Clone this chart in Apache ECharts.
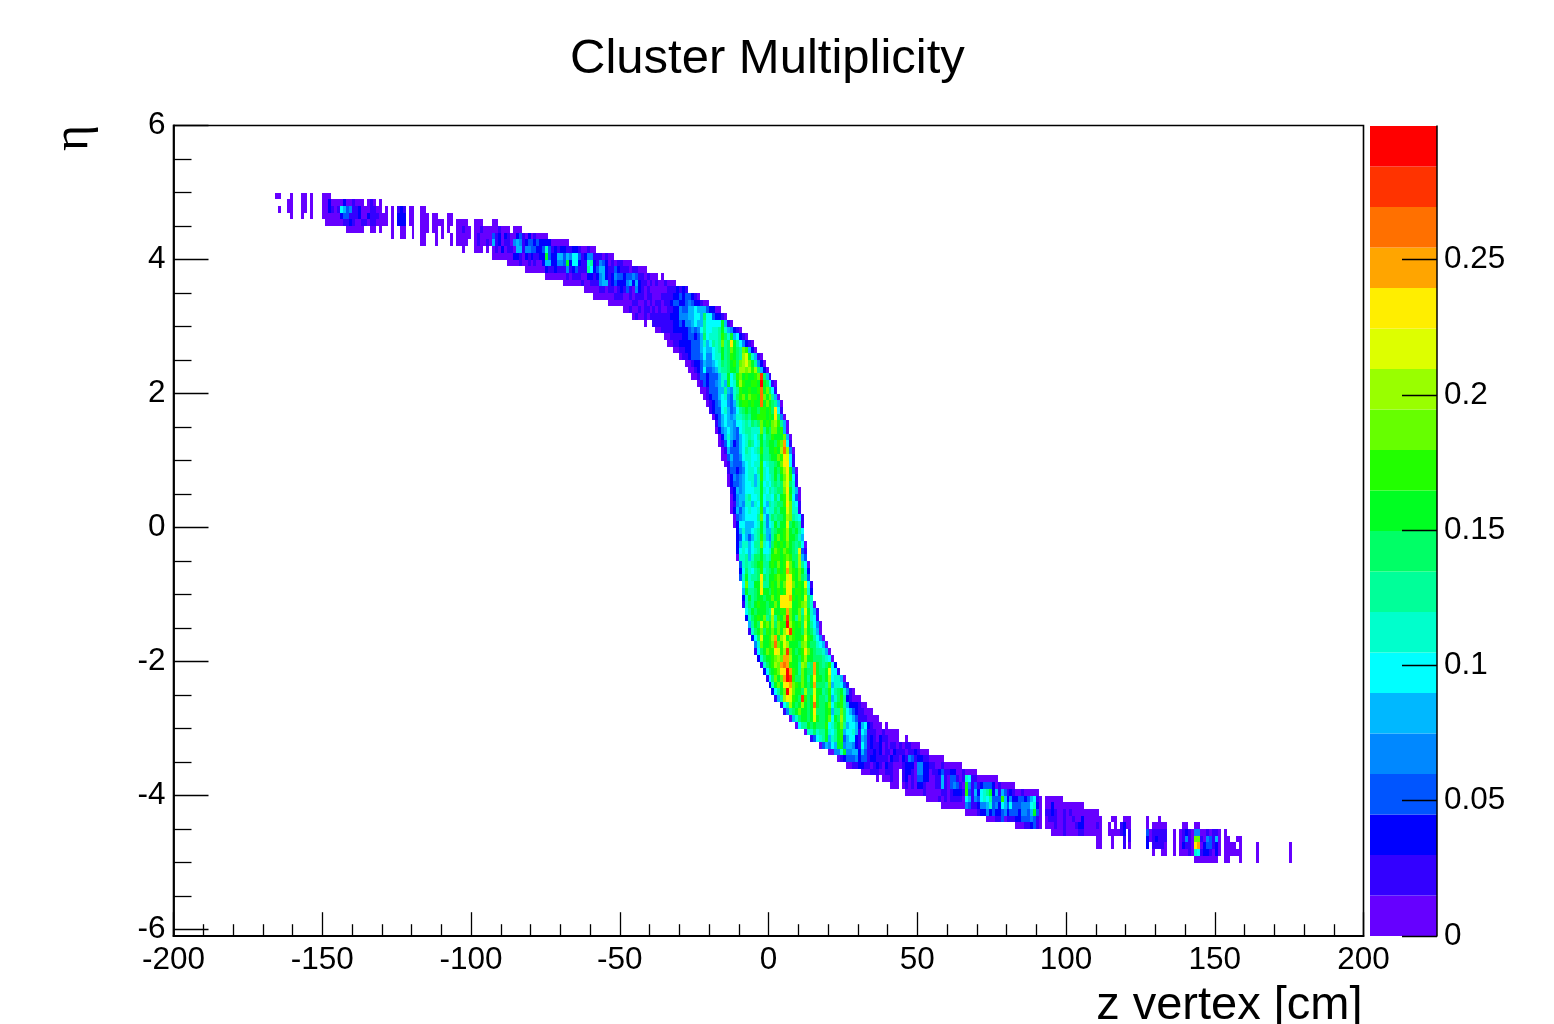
<!DOCTYPE html>
<html><head><meta charset="utf-8">
<style>html,body{margin:0;padding:0;background:#fff}#c{width:1554px;height:1024px}</style>
<script src="https://cdn.jsdelivr.net/npm/echarts@6/dist/echarts.min.js"></script>
</head><body><div id="c"></div>
<script>
// Colour levels of the 20-step palette, bottom of the colour bar first.
const palette = ['#6600ff','#3300ff','#0000ff','#0055ff','#0088ff','#00b8ff','#00ffff','#00ffcc','#00ff99','#00ff66',
                 '#00ff22','#22ff00','#66ff00','#99ff00','#ddff00','#ffee00','#ffa500','#ff7000','#ff3300','#ff0000'];
const levelCodes = '0123456789abcdefghij';
const levelStep = 0.01497;
const yMajorValues = [-6,-4,-2,0,2,4,6];
const yMinorValues = [-5.5,-5,-4.5,-3.5,-3,-2.5,-1.5,-1,-0.5,0.5,1,1.5,2.5,3,3.5,4.5,5,5.5];
const barTicks = [0,0.05,0.1,0.15,0.2,0.25];
// One row per eta bin (0.1 wide), from eta 4.9 down to -5.0.
// rowStart = z bin (1 cm wide) of the first cell; rowLevels = colour level per cell, '.' = empty.
const rowStart = [-166,-162,-165,-161,-149,-142,-127,-117,-103,-93,-88,-82,-75,-69,-62,
  -59,-54,-49,-46,-42,-38,-35,-34,-32,-30,-28,-27,-26,-24,-23,-22,-21,-20,-19,-18,-18,-17,-17,-16,-16,-15,-14,-14,-14,-13,-13,-13,-13,-12,-12,
  -11,-11,-11,-11,-11,-10,-10,-10,-9,-9,-9,-9,-8,-8,-7,-7,-6,-5,-5,-4,-3,-2,-1,0,1,2,4,5,7,9,12,14,17,20,23,26,31,36,41,46,53,58,66,73,83,95,110,110,129,143];
const rowLevels = [
"00...0...00.0...000",
"00...00.0...00200002001000.010.0",
"0..00...00.0...00210165341120001100.0.0.121.00..00",
"0...0..0...0000002331112002111000.0.222.00..000.00...00",
"000000112100110110000.0.222.00..000.0000.00.0000..000...00",
"000000..00.0...0..00..0..000.00.0.0..00100.001000001000.000",
"0..00..0..00...0.0..0.00000.0100003120210023102010000",
"00...0....0.0000..01001051201104541233232222000000",
"0...000.0.0102011055144332237312122112 2100100",
"000000022102121122a3225535466312441110100",
"0000100101002552244 3a26621178214320 1011000",
"000000021121114123111862355211321 11011000",
"00000001011100221245212433233431101000.0",
"00000010011145512322245252110101001000",
"0000011011012131042101000000 1112121",
"000000011100101110110001111223233210",
"0000000011001010110112332234322100",
"001001011010100112243355655532200",
"0100101111111222444556659663221 0",
"0..1111111223244565 5866666a510",
"00111122222343468667 78a754210",
"0011112233235967778b97a56210",
"001122223335756878c89fa864210",
"001122333565567 8a89ca98cb520",
"01123334644677a89ba98dea7510",
"001223544567989ab9cdeca8420",
"00123633457889aa9ddcdbd9520",
"001332333577a68bcabaabci951",
"0132334575a67adbaabbaja9610",
"0013335585478baabaabhac961",
"012335674379bcacbbahcac850",
"01234664358abbabaahaca9850",
"123367534689a9aa9bbab9f61",
"0235654577898aabbbabaf940",
"135655466787989cabacdb850",
"024565436788777c8a9ccab50",
"025754356787 68a799baaac50",
"01364235679867a89aa9bcg61",
"0153335687678b88aabadhd40",
"0035334677667a889aacbfe61",
"014333567677b67889acff61",
"13323467768b7688a9bdfa40",
"02434567757b7678a8aceb61",
"02334566757a6768989de971",
"1254566677a7687899cfa750",
"0245578667a677697abeb630",
"0145477576a6587899bfc761",
"0253567667b567798aaec771",
"034566668c6479899adc8761",
"026655567a7467a8aae9a981",
"25755678a75589aabda9a86",
"23653578b8548acabdaa975",
"25775688c7659babaca98960",
"26765678a667acbacba98e31",
"07785799a878bbbabcb99d53",
"378789ab88abacabfca9d860",
"2697689b789a9babgcbaca72",
"37a7889f98aabcbbefbac983",
"6c77aae88abacacffcabae61",
"5a889afaa9bababffabbac72",
"27a89aa9aacabfffgbabae97",
"1798abaa9aacafffeaabcd970",
"68a9aaa98eaabbgcaac8ea751",
"279abac89d8bacica8c9db761",
"58a9ebcad9cbbjdbab9ea8640",
"179ac9bacacadfibaa9da9750",
"269eaabdgadeacbaabeba8640",
"47caabchcbedaaa9cda997650",
"169acbbfebdica9abfca988750",
"279aabcdcggdaa9bdaa9998760",
"179abdcghgbaa8dc89ga989b62",
"269abcffjgba8ca99ga99ae661",
"169cacgjib99ca8afaa9ad67750",
"27acaffgcbaca9ag9998c577631",
"268acjfcaa9d99eaa89b689a7410",
"158dfeba9ib9afa998b579b821000",
"168da9ada9aha99ac69ab85222100",
"1489acaa9af999ab588c9653211000",
"0579aa9aea99ac6a9d966531110000",
"0688a9a999b679ac8566525621000.0",
"0779788a768ab566751651110010 0000",
"13678a578ab3566215412102110000..0",
"035465aa4554216412112010110101 1000",
"00447a445525311212011021110112 1000",
"01233342331221111021 1021431221100000",
"00112211012102110001222044221 1001000000",
"0001110011100.1221044220112311220010000",
"0.000100.12010332200115103310176110000000",
"000.010102210001151034310a4131233320100000",
"00000010000011012221b3152678a2515312100100000",
"0000101011110651436768333b5242233235610.000000",
"00000000431124457342653633344467 20.0020000000000",
"0000122423223423332 4435a30.112100101000000000",
"0001130111223334310.0111001001002000000...00..000.....0...0",
"000112310.0001001000122000010..0.0.1200.....0.00000.....00..00",
"00001000011000000..000012.1.....3011111..0.01210440010110.0",
"00...0...1.1.....2012111..0.01410cc1043150.00..00",
"00...0...1.0.....2.11110..0.02110fg0233120.0000.0.....0..........0",
"0..00..0.00010761221020.000000.....0..........0",
"00000000..00...0.....0..........0"
];

const cells = [];
rowLevels.forEach((row, r) => {
  const eta = (49 - r) / 10;
  let z = rowStart[r];
  for (const ch of row) {
    if (ch === ' ') continue;
    if (ch !== '.') cells.push([z, eta, levelCodes.indexOf(ch)]);
    z++;
  }
});

const font = '"Liberation Sans", Arial, sans-serif';
const black = '#000';
const barSeries = palette.map((color, i) => ({
  type: 'bar', xAxisIndex: 1, yAxisIndex: 2, stack: 'bar', barWidth: '100%', silent: true,
  itemStyle: { color }, data: [levelStep], z: 2, animation: false
}));

const chart = echarts.init(document.getElementById('c'), null, { renderer: 'canvas', width: 1554, height: 1024 });
chart.setOption({
  animation: false,
  backgroundColor: '#fff',
  title: { text: 'Cluster Multiplicity', left: 565, top: 30,
    textStyle: { fontFamily: font, fontSize: 49, fontWeight: 'normal', color: black } },
  grid: [
    { left: 173.5, top: 125.5, width: 1190, height: 810.7, show: true, borderColor: black, borderWidth: 1.6, backgroundColor: 'transparent', outerBoundsMode: 'none', containLabel: false },
    { left: 1370, top: 126, width: 67, height: 810, outerBoundsMode: 'none', containLabel: false }
  ],
  xAxis: [
    { type: 'value', gridIndex: 0, min: -200, max: 200, interval: 50, splitLine: { show: false }, z: 5,
      axisLine: { show: true, onZero: false, lineStyle: { color: black, width: 1.8 } },
      axisTick: { show: true, inside: true, length: 24, lineStyle: { color: black, width: 1.3 } },
      minorTick: { show: true, splitNumber: 5, length: 12, lineStyle: { color: black, width: 1.3 } },
      axisLabel: { fontFamily: font, fontSize: 31.5, color: black, margin: 8, hideOverlap: false, showMinLabel: true, showMaxLabel: true },
      name: 'z vertex [cm]', nameLocation: 'end', nameGap: -1,
      nameTextStyle: { fontFamily: font, fontSize: 47, color: black, align: 'right', verticalAlign: 'top', padding: [46, 0, 0, 0] } },
    { type: 'category', gridIndex: 1, data: [''], show: false }
  ],
  yAxis: [
    { type: 'value', gridIndex: 0, position: 'left', min: -6.1, max: 6, splitLine: { show: false }, z: 5,
      axisLine: { show: true, onZero: false, lineStyle: { color: black, width: 1.8 } },
      axisTick: { show: true, inside: true, length: 35, customValues: yMajorValues, lineStyle: { color: black, width: 1.3 } },
      axisLabel: { fontFamily: font, fontSize: 31.5, color: black, margin: 8, padding: [6, 0, 0, 0], customValues: yMajorValues, showMinLabel: true, showMaxLabel: true } },
    { type: 'value', gridIndex: 0, position: 'left', min: -6.1, max: 6, splitLine: { show: false }, z: 5,
      axisLine: { show: false, onZero: false }, axisLabel: { show: false },
      axisTick: { show: true, inside: true, length: 18, customValues: yMinorValues, lineStyle: { color: black, width: 1.3 } } },
    { type: 'value', gridIndex: 1, position: 'right', min: 0, max: levelStep * 20, splitLine: { show: false }, z: 5,
      axisLine: { show: true, onZero: false, lineStyle: { color: black, width: 1.5 } },
      axisTick: { show: true, inside: true, length: 35, customValues: barTicks, lineStyle: { color: black, width: 1.3 } },
      axisLabel: { fontFamily: font, fontSize: 31.5, color: black, margin: 7, padding: [4, 0, 0, 0], customValues: barTicks,
        formatter: v => String(+v.toFixed(2)) } }
  ],
  graphic: [
    { type: 'text', rotation: Math.PI / 2, x: 49, y: 151, z: 10,
      style: { text: 'η', fontFamily: '"Liberation Serif", serif', fontSize: 50, fill: black, textAlign: 'left', textVerticalAlign: 'top' } }
  ],
  series: [
    { type: 'custom', xAxisIndex: 0, yAxisIndex: 0, silent: true, z: 2, clip: true, animation: false, progressive: 0,
      data: cells,
      renderItem: (params, api) => {
        const z = api.value(0), eta = api.value(1);
        const a = api.coord([z, eta + 0.1]), b = api.coord([z + 1, eta]);
        const x0 = Math.round(a[0]), y0 = Math.round(a[1]), x1 = Math.round(b[0]), y1 = Math.round(b[1]);
        return { type: 'rect', shape: { x: x0, y: y0, width: x1 - x0, height: y1 - y0 },
          style: { fill: palette[api.value(2)] } };
      } }
  ].concat(barSeries)
});
</script></body></html>
